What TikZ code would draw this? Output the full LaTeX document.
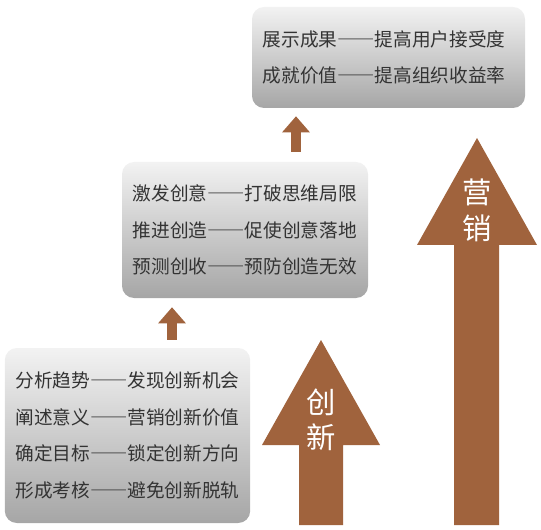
\documentclass[tikz,border=0pt]{standalone}
\usepackage{fontspec}
\setmainfont{Noto Sans CJK SC}[RawFeature=+fwid]
\usetikzlibrary{arrows.meta}
\definecolor{rust}{HTML}{A0633D}
\definecolor{inktext}{HTML}{333333}

\begin{document}
\begin{tikzpicture}[x=0.75pt,y=-0.75pt,
    panel/.style={rounded corners=9pt, top color=gray!10, bottom color=gray!70,
      align=left, text=inktext, inner xsep=8pt, inner ysep=0pt,
      font=\fontsize{14}{27.4}\selectfont},
    lift/.style={draw=rust, line width=7.5pt, -{Triangle[width=20pt,length=12pt]}},
    tag/.style={text=white, align=center, inner sep=0pt, font=\fontsize{22}{26.6}\selectfont}]
  \useasboundingbox (0,0) rectangle (541,530);

  % stages
  \node[panel, text width=168pt, minimum height=131.25pt] (analyse) at (127.5,435.5)
    {分析趋势——发现创新机会\\阐述意义——营销创新价值\\确定目标——锁定创新方向\\形成考核——避免创新脱轨};
  \node[panel, text width=168.5pt, minimum height=102pt] (create) at (245,230)
    {激发创意——打破思维局限\\推进创造——促使创意落地\\预测创收——预防创造无效};
  \node[panel, text width=188.75pt, minimum height=75.75pt] (result) at (388.5,57.5)
    {展示成果——提高用户接受度\\成就价值——提高组织收益率};

  % small arrows between stages
  \coordinate (liftA) at (172,0);
  \coordinate (liftB) at (296,0);
  \draw[lift, shorten <=6pt, shorten >=6.75pt] (liftA |- analyse.north) -- (liftA |- create.south);
  \draw[lift, shorten <=7.5pt, shorten >=6pt] (liftB |- create.north) -- (liftB |- result.south);

  % big arrows
  \fill[rust] (299,525) -- (299,445) -- (262,445) -- (321,340) -- (380,445)
    -- (343,445) -- (343,525) -- cycle;
  \node[tag] (innov) at (321,420) {创\\新};
  \fill[rust] (454,525) -- (454,245) -- (417,245) -- (477,138) -- (537,245)
    -- (499,245) -- (499,525) -- cycle;
  \node[tag] (market) at (477,210.5) {营\\销};
\end{tikzpicture}
\end{document}
